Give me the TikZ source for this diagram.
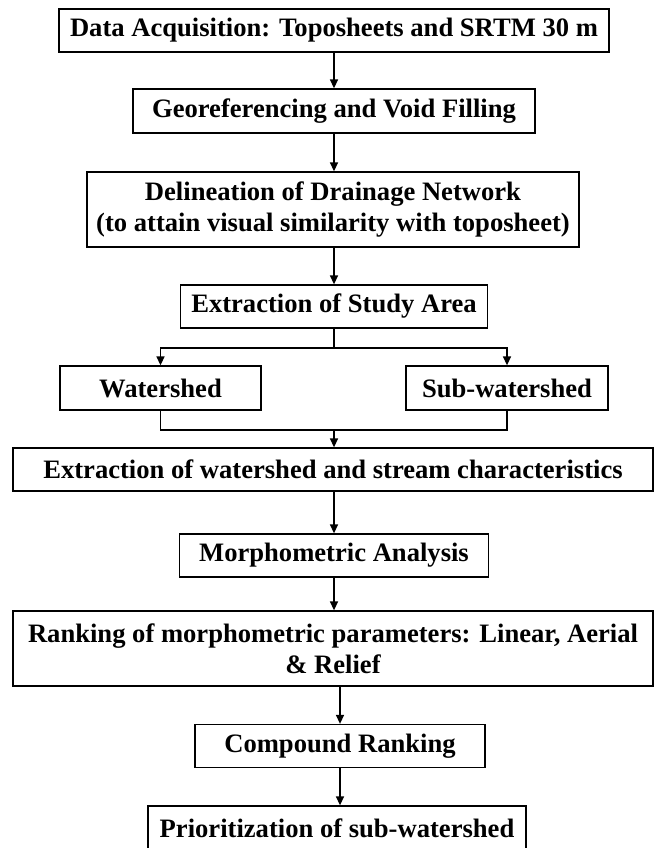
\documentclass[tikz,border=0pt]{standalone}
\usepackage{fontspec}
\setmainfont{Liberation Serif}
\usetikzlibrary{arrows.meta}
\begin{document}
\begin{tikzpicture}[x=1pt,y=-1pt,
  box/.style={draw, line width=1.3pt, font=\fontsize{26.6}{31}\selectfont\bfseries, inner sep=0pt, align=center},
  arr/.style={line width=1.4pt, -{Triangle[length=9pt,width=8pt]}},
  ln/.style={line width=1.4pt}]
\useasboundingbox (0,0) rectangle (655,848);
\node[box, minimum width=550pt, minimum height=43pt] (b1) at (334,30.5) {Data Acquisition: Toposheets and SRTM 30 m};
\node[box, minimum width=402pt, minimum height=44pt] (b2) at (334,111) {Georeferencing and Void Filling};
\node[box, minimum width=492pt, minimum height=75pt] (b3) at (333,209.5) {Delineation of Drainage Network\\(to attain visual similarity with toposheet)};
\node[box, minimum width=307pt, minimum height=43pt] (b4) at (334,306.5) {Extraction of Study Area};
\node[box, minimum width=201pt, minimum height=44pt] (b5) at (160.5,388) {Watershed};
\node[box, minimum width=202pt, minimum height=44pt] (b6) at (507,388) {Sub-watershed};
\node[box, minimum width=640pt, minimum height=43pt] (b7) at (333,469.5) {Extraction of watershed and stream characteristics};
\node[box, minimum width=309pt, minimum height=43pt] (b8) at (334,555.5) {Morphometric Analysis};
\node[box, minimum width=640pt, minimum height=75pt] (b9) at (333,648.5) {Ranking of morphometric parameters: Linear, Aerial\\\& Relief};
\node[box, minimum width=290pt, minimum height=43pt] (b10) at (340,746) {Compound Ranking};
\node[box, minimum width=378pt, minimum height=44pt] (b11) at (337,828) {Prioritization of sub-watershed};
\coordinate (bj) at (334,348);
\coordinate (mj) at (334,430);
\draw[arr] (b1) -- (b2);
\draw[arr] (b2.south -| b1.south) -- (b3.north -| b1.south);
\draw[arr] (b3.south -| b1.south) -- (b4.north);
\draw[ln] (b4.south) -- (bj);
\draw[arr] (bj) -| (b5.north);
\draw[arr] (bj) -| (b6.north);
\draw[ln] (b5.south) |- (mj) -| (b6.south);
\draw[arr] (mj) -- (b7.north -| mj);
\draw[arr] (b7.south -| mj) -- (b8.north);
\draw[arr] (b8.south) -- (b9.north -| b8.south);
\draw[arr] (b9.south -| b10.north) -- (b10.north);
\draw[arr] (b10.south) -- (b10.south |- b11.north);
\end{tikzpicture}
\end{document}
